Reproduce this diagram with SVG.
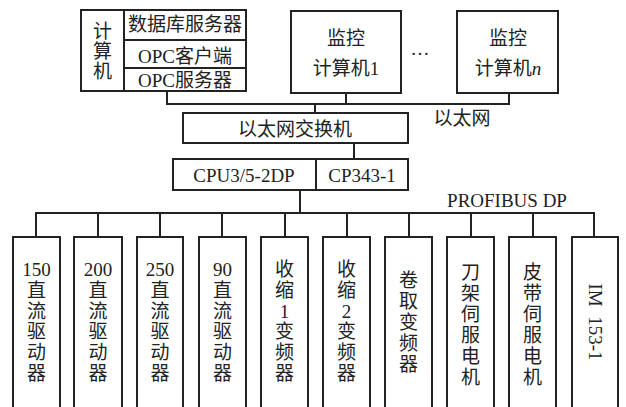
<svg xmlns="http://www.w3.org/2000/svg" width="626" height="407" viewBox="0 0 626 407">
<style>
rect{fill:#fff;stroke:#222;stroke-width:2}
rect.bg{stroke:none}
.c line,.c polyline{stroke:#222;stroke-width:2;fill:none}
text{font-family:"Liberation Serif","Noto Sans CJK SC",serif;font-size:19px;fill:#222;text-anchor:middle;dominant-baseline:central}
</style>
<rect class="bg" width="626" height="407"/>
<g class="c" id="connectors">
<line x1="167" y1="91" x2="167" y2="104"/>
<line x1="346" y1="93" x2="346" y2="104"/>
<line x1="509" y1="93" x2="509" y2="104"/>
<line x1="166" y1="104" x2="510" y2="104"/>
<line x1="315" y1="104" x2="315" y2="113"/>
<line x1="354" y1="143" x2="354" y2="159"/>
<line x1="300" y1="190" x2="300" y2="213"/>
<line x1="35" y1="213" x2="595" y2="213"/>
<line x1="36" y1="213" x2="36" y2="237"/>
<line x1="98" y1="213" x2="98" y2="237"/>
<line x1="160" y1="213" x2="160" y2="237"/>
<line x1="222" y1="213" x2="222" y2="237"/>
<line x1="285" y1="213" x2="285" y2="237"/>
<line x1="347" y1="213" x2="347" y2="237"/>
<line x1="409" y1="213" x2="409" y2="237"/>
<line x1="471" y1="213" x2="471" y2="237"/>
<line x1="533" y1="213" x2="533" y2="237"/>
<line x1="594" y1="213" x2="594" y2="237"/>
</g>
<g id="computer">
<rect x="81" y="10" width="165" height="81"/>
<line x1="124" y1="10" x2="124" y2="91" stroke="#222" stroke-width="2"/>
<line x1="124" y1="40" x2="246" y2="40" stroke="#222" stroke-width="2"/>
<line x1="124" y1="68" x2="246" y2="68" stroke="#222" stroke-width="2"/>
<text x="102.5" y="31">计</text>
<text x="102.5" y="51">算</text>
<text x="102.5" y="71">机</text>
<text x="185" y="24">数据库服务器</text>
<text x="185" y="56">OPC客户端</text>
<text x="185" y="80">OPC服务器</text>
</g>
<g id="monitor1">
<rect x="291" y="11" width="110" height="82"/>
<text x="346" y="38">监控</text>
<text x="346" y="68">计算机1</text>
</g>
<text x="420" y="48">…</text>
<g id="monitorn">
<rect x="457" y="11" width="101" height="82"/>
<text x="508" y="38">监控</text>
<text x="508" y="68">计算机<tspan font-style="italic">n</tspan></text>
</g>
<text x="462" y="118">以太网</text>
<g id="switch">
<rect x="183" y="113" width="225" height="30"/>
<text x="295" y="129">以太网交换机</text>
</g>
<g id="cpu">
<rect x="173" y="159" width="235" height="31"/>
<line x1="316" y1="159" x2="316" y2="190" stroke="#222" stroke-width="2"/>
<text x="244" y="175">CPU3/5-2DP</text>
<text x="362" y="175">CP343-1</text>
</g>
<text x="507" y="200" font-size="16.5">PROFIBUS DP</text>
<g id="d150"><rect x="13" y="237" width="47" height="180"/>
<text x="36.5" y="269">150</text><text x="36.5" y="290">直</text><text x="36.5" y="311">流</text><text x="36.5" y="331">驱</text><text x="36.5" y="352">动</text><text x="36.5" y="373">器</text></g>
<g id="d200"><rect x="74" y="237" width="48" height="180"/>
<text x="98" y="269">200</text><text x="98" y="290">直</text><text x="98" y="311">流</text><text x="98" y="331">驱</text><text x="98" y="352">动</text><text x="98" y="373">器</text></g>
<g id="d250"><rect x="137" y="237" width="46" height="180"/>
<text x="160" y="269">250</text><text x="160" y="290">直</text><text x="160" y="311">流</text><text x="160" y="331">驱</text><text x="160" y="352">动</text><text x="160" y="373">器</text></g>
<g id="d90"><rect x="199" y="237" width="47" height="180"/>
<text x="222.5" y="269">90</text><text x="222.5" y="290">直</text><text x="222.5" y="311">流</text><text x="222.5" y="331">驱</text><text x="222.5" y="352">动</text><text x="222.5" y="373">器</text></g>
<g id="s1"><rect x="261" y="237" width="47" height="180"/>
<text x="284.5" y="269">收</text><text x="284.5" y="290">缩</text><text x="284.5" y="311">1</text><text x="284.5" y="331">变</text><text x="284.5" y="352">频</text><text x="284.5" y="373">器</text></g>
<g id="s2"><rect x="323" y="237" width="47" height="180"/>
<text x="346.5" y="269">收</text><text x="346.5" y="290">缩</text><text x="346.5" y="311">2</text><text x="346.5" y="331">变</text><text x="346.5" y="352">频</text><text x="346.5" y="373">器</text></g>
<g id="juanqu"><rect x="385" y="237" width="47" height="180"/>
<text x="408.5" y="280">卷</text><text x="408.5" y="301">取</text><text x="408.5" y="322">变</text><text x="408.5" y="343">频</text><text x="408.5" y="364">器</text></g>
<g id="daojia"><rect x="447" y="237" width="47" height="180"/>
<text x="470.5" y="272">刀</text><text x="470.5" y="293">架</text><text x="470.5" y="314">伺</text><text x="470.5" y="335">服</text><text x="470.5" y="356">电</text><text x="470.5" y="377">机</text></g>
<g id="pidai"><rect x="509" y="237" width="47" height="180"/>
<text x="532.5" y="272">皮</text><text x="532.5" y="293">带</text><text x="532.5" y="314">伺</text><text x="532.5" y="335">服</text><text x="532.5" y="356">电</text><text x="532.5" y="377">机</text></g>
<g id="im"><rect x="572" y="237" width="46" height="180"/>
<text x="595" y="322" transform="rotate(90 595 322)" style="white-space:pre">IM  153-1</text></g>
</svg>
